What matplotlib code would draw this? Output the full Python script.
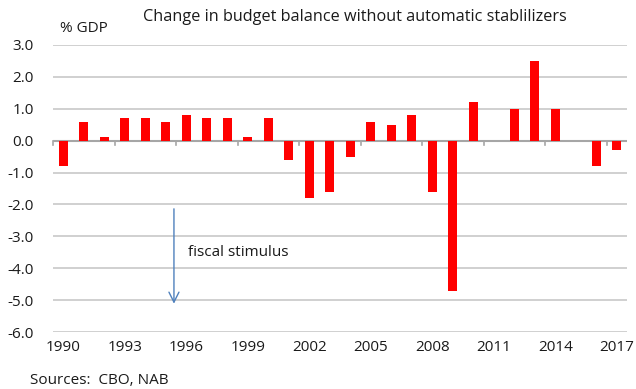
import matplotlib.pyplot as plt
import numpy as np

plt.rcParams['font.family'] = ['Open Sans', 'DejaVu Sans']

# Data
years = list(range(1990, 2018))
balance_change = [-0.8, 0.6, 0.1, 0.7, 0.7, 0.6, 0.8, 0.7, 0.7, 0.1,
                  0.7, -0.6, -1.8, -1.6, -0.5, 0.6, 0.5, 0.8, -1.6, -4.7,
                  1.2, 0.0, 1.0, 2.5, 1.0, 0.0, -0.8, -0.3]
y_ticks = [3.0, 2.0, 1.0, 0.0, -1.0, -2.0, -3.0, -4.0, -5.0, -6.0]

fig = plt.figure(figsize=(6.36, 3.89), dpi=100)
ax = fig.add_axes([53 / 636, 1 - 332 / 389, 574 / 636, 287 / 389])

x = np.arange(len(years))
ax.bar(x, balance_change, width=0.45, color='#ff0000', zorder=3)

ax.set_xlim(-0.5, len(years) - 0.5)
ax.set_ylim(-6.0, 3.0)
ax.set_yticks(y_ticks)
ax.set_yticklabels([f"{v:.1f}" for v in y_ticks], fontsize=11, color='#1a1a1a')
ax.tick_params(axis='y', length=0, pad=14)
ax.grid(axis='y', color='#c8c8c8', linewidth=1.2, zorder=0)

for s in ['left', 'right', 'top', 'bottom']:
    ax.spines[s].set_visible(False)

# zero line with tick marks at every 3rd category boundary
ax.axhline(0, color='#a6a6a6', linewidth=1.5, zorder=2)
for b in np.arange(-0.5, len(years), 3):
    ax.plot([b, b], [0, -0.13], color='#a6a6a6', linewidth=1.2, zorder=2, clip_on=False)

ax.set_xticks(x[::3])
ax.set_xticklabels([str(y) for y in years[::3]], fontsize=11, color='#1a1a1a')
ax.tick_params(axis='x', length=0, pad=6)

# fiscal stimulus arrow
ax.annotate('', xy=(5.4, -5.2), xytext=(5.4, -2.05),
            arrowprops=dict(arrowstyle='->', color='#4f81bd', linewidth=1.0,
                            mutation_scale=18))
ax.text(6.1, -3.5, 'fiscal stimulus', fontsize=11, color='#1a1a1a', va='center')

fig.text(355 / 636, 1 - 17 / 389, 'Change in budget balance without automatic stablilizers',
         ha='center', va='center', fontsize=11.7, color='#1a1a1a')
fig.text(60 / 636, 1 - 29 / 389, '% GDP', ha='left', va='center', fontsize=11, color='#1a1a1a')
fig.text(30 / 636, 1 - 380 / 389, 'Sources:  CBO, NAB', ha='left', va='center',
         fontsize=11, color='#1a1a1a')

fig.savefig('out.png', dpi=100)
